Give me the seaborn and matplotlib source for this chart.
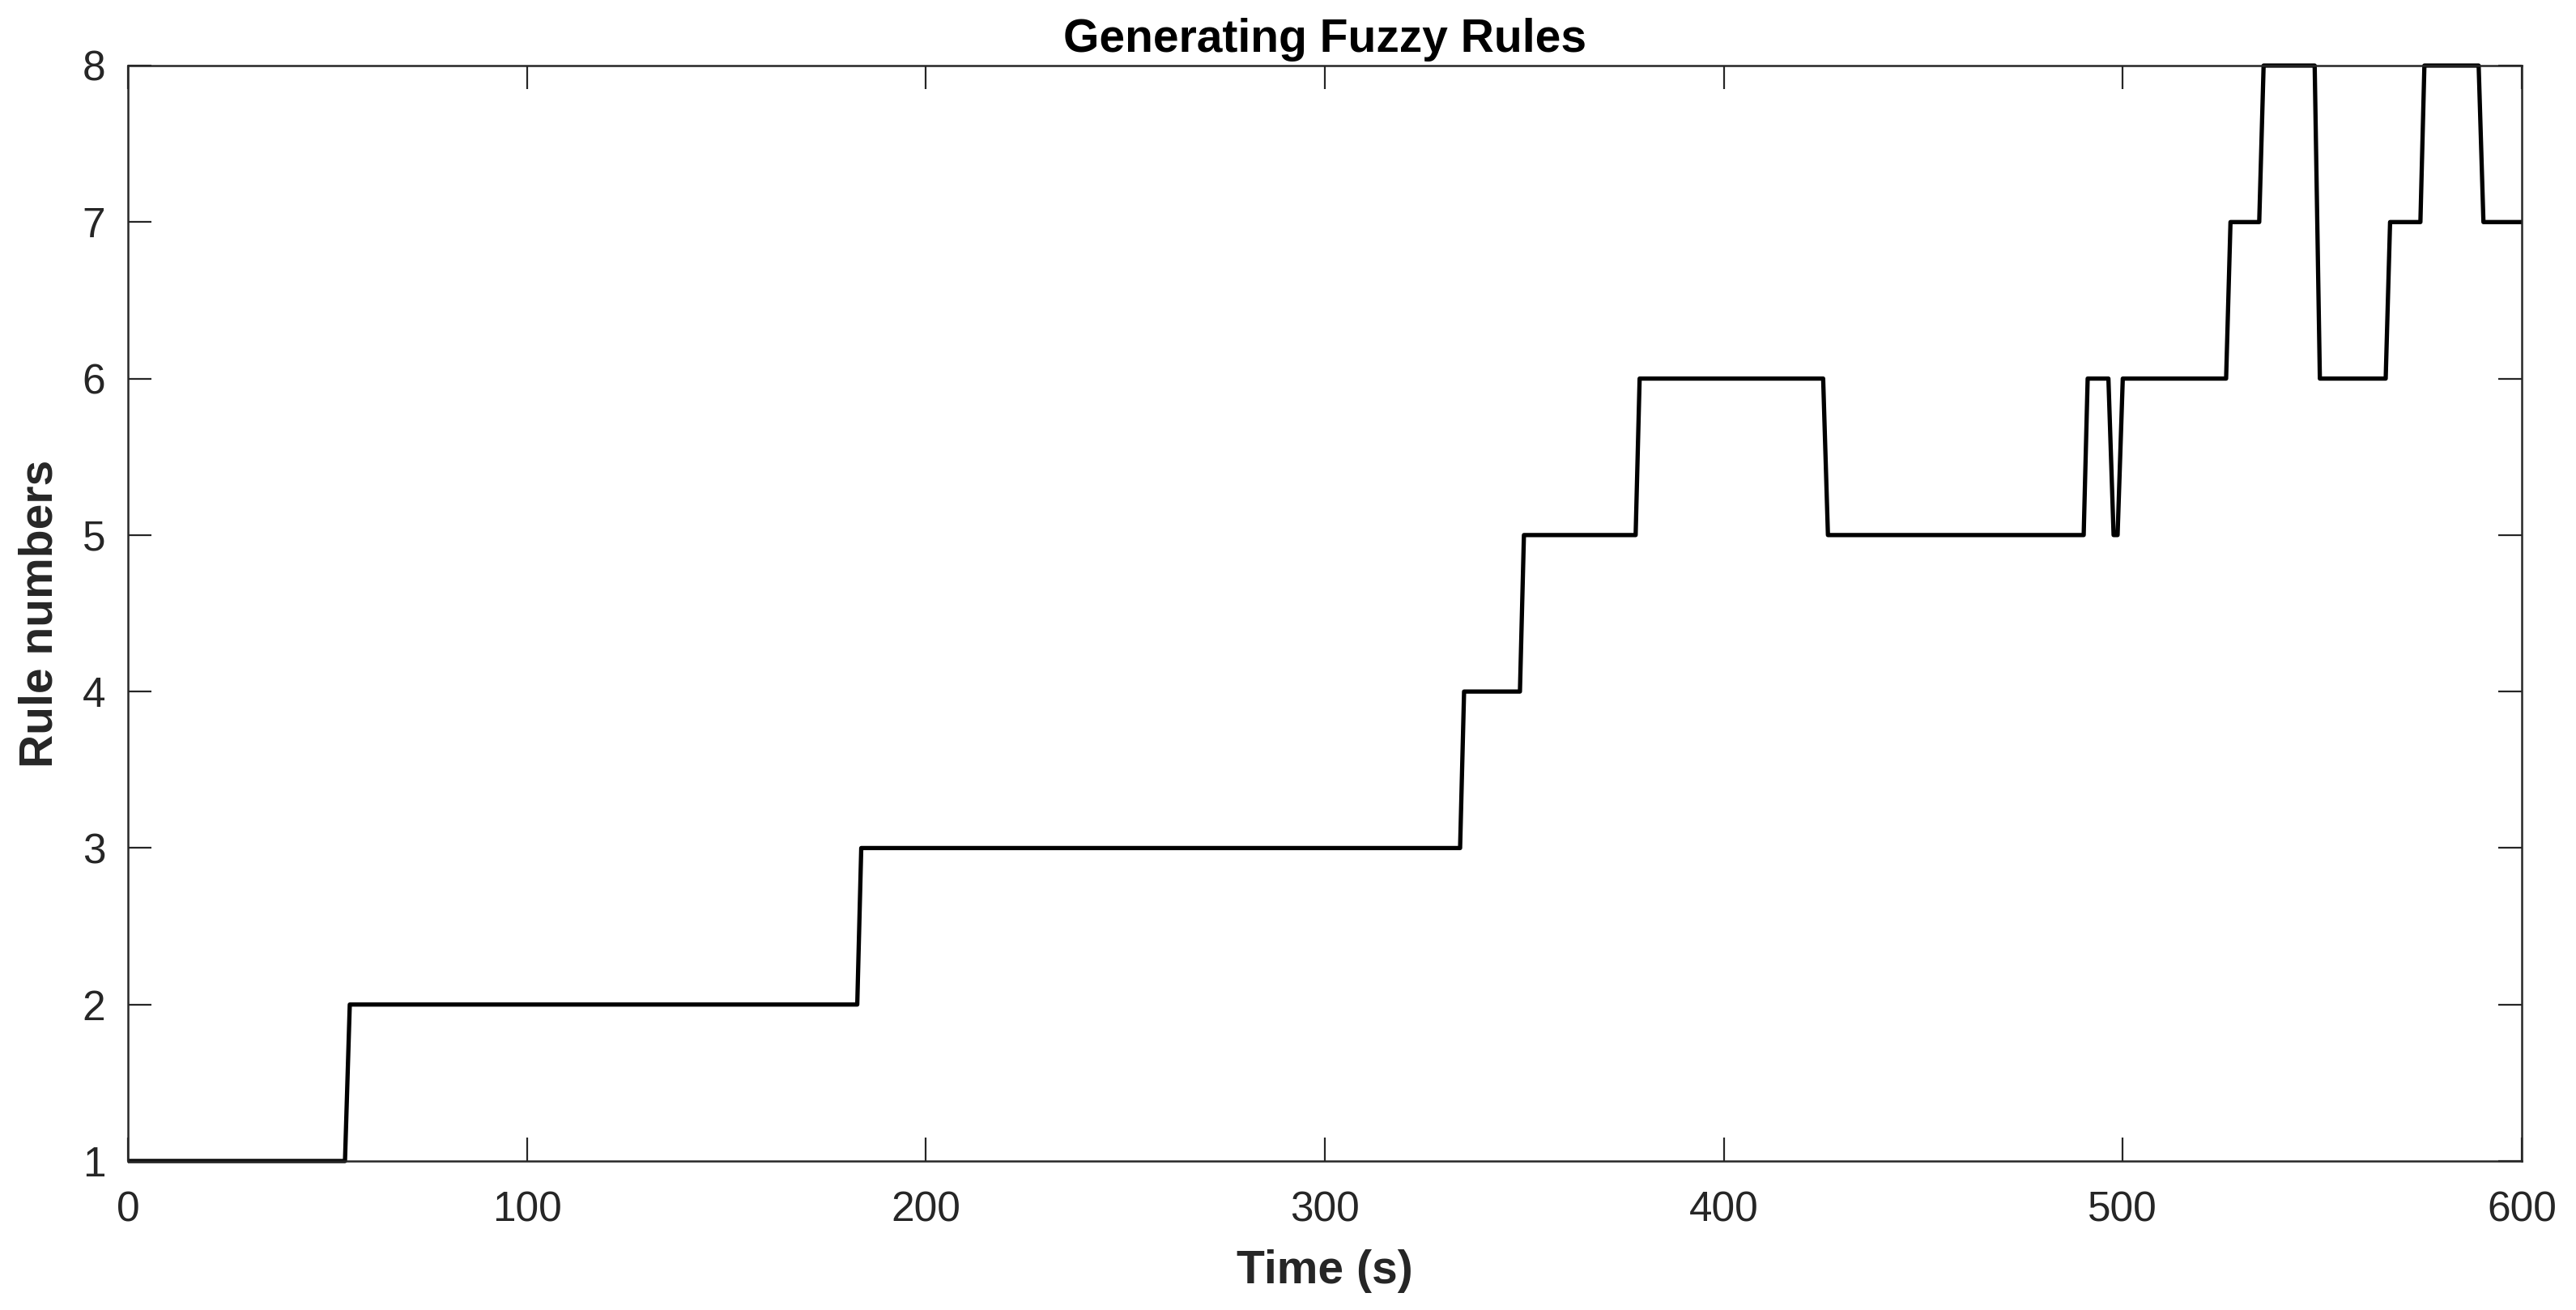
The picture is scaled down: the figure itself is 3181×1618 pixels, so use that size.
import matplotlib
matplotlib.use("Agg")
import matplotlib.pyplot as plt
import seaborn as sns
import pandas as pd

# Vertices of the rule-count trace (time in s, number of rules)
time_s = [0, 54.4, 55.6, 182.8, 183.8, 333.9, 334.9, 348.9, 349.9, 377.9, 378.9,
          424.9, 426.1, 490.2, 491.2, 496.4, 497.7, 498.7, 500.0, 525.9, 527.0,
          534.2, 535.3, 548.1, 549.4, 565.9, 567.0, 574.6, 575.6, 589.2, 590.4, 600]
rules = [1, 1, 2, 2, 3, 3, 4, 4, 5, 5, 6,
         6, 5, 5, 6, 6, 5, 5, 6, 6, 7,
         7, 8, 8, 6, 6, 7, 7, 8, 8, 7, 7]

x_ticks = [0, 100, 200, 300, 400, 500, 600]
y_ticks = [1, 2, 3, 4, 5, 6, 7, 8]

sns.set_theme(style="white")
plt.rcParams['font.family'] = ['Liberation Sans', 'DejaVu Sans']

df = pd.DataFrame({"t": time_s, "n": rules})

fig = plt.figure(figsize=(31.81, 16.18), dpi=100)
ax = fig.add_axes([158/3181, 1 - 1434/1618, (3114-158)/3181, (1434-81)/1618])

sns.lineplot(data=df, x="t", y="n", ax=ax, sort=False, estimator=None,
             color="black", linewidth=3.8, clip_on=False,
             solid_joinstyle="round", solid_capstyle="butt")

ax.set_xlim(0, 600)
ax.set_ylim(1, 8)
ax.set_xticks(x_ticks)
ax.set_yticks(y_ticks)
ax.set_xticklabels([str(v) for v in x_ticks])
ax.set_yticklabels([str(v) for v in y_ticks])

for s in ax.spines.values():
    s.set_visible(True)
    s.set_color("#262626")
    s.set_linewidth(1.8)

ax.tick_params(axis="both", which="major", direction="in", length=21,
               width=1.6, color="#262626", labelcolor="#262626", labelsize=37,
               top=True, right=True, bottom=True, left=True)
ax.tick_params(axis="x", pad=26)
ax.tick_params(axis="y", pad=20)

ax.set_xlabel("Time (s)", fontsize=41, fontweight="bold", color="#262626")
ax.set_ylabel("Rule numbers", fontsize=41, fontweight="bold", color="#262626")
ax.xaxis.set_label_coords(0.5, -(1570 - 1434) / (1434 - 81))
ax.yaxis.set_label_coords(-(158 - 50) / (3114 - 158), 0.5)
ax.xaxis.label.set_va("center")
ax.yaxis.label.set_va("center")
ax.set_title("Generating Fuzzy Rules", fontsize=41, fontweight="bold",
             color="black", pad=12)

fig.savefig("out.png", dpi=100, facecolor="white")
